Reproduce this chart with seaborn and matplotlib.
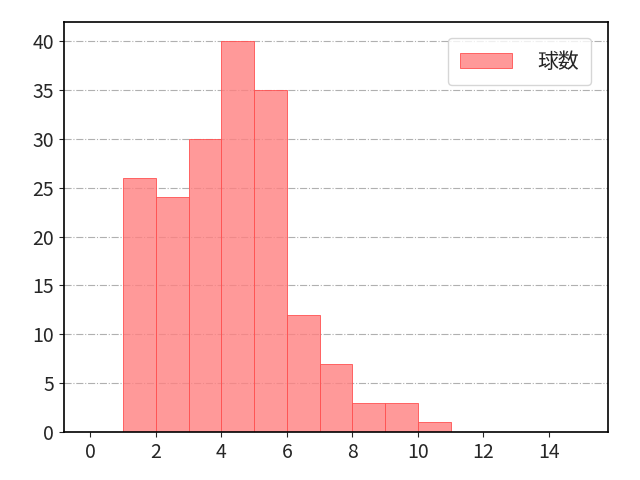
import numpy as np
import pandas as pd
import matplotlib
matplotlib.use("Agg")
import matplotlib.pyplot as plt
import seaborn as sns

# 球数の分布 (1球刻み)
bin_left = [0, 1, 2, 3, 4, 5, 6, 7, 8, 9, 10, 11, 12, 13, 14]
counts = [0, 26, 24, 30, 40, 35, 12, 7, 3, 3, 1, 0, 0, 0, 0]
label = "球数"

sns.set_style("ticks")
plt.rcParams['font.family'] = ['Noto Sans CJK JP', 'DejaVu Sans']
plt.rcParams['font.size'] = 15

df = pd.DataFrame({"x": np.array(bin_left) + 0.5, "w": counts})

fig, ax = plt.subplots(figsize=(6.4, 4.8), dpi=100)
sns.histplot(data=df, x="x", weights="w", binwidth=1, binrange=(0, 15), ax=ax,
             color="#ff8080", alpha=0.8, edgecolor="#ff5050", linewidth=0.6,
             label=label)
ax.set_xlim(-0.8, 15.8)
ax.set_ylim(0, 42)
ax.set_xticks(range(0, 15, 2))
ax.set_yticks(range(0, 41, 5))
ax.set_xlabel("")
ax.set_ylabel("")
ax.grid(axis="y", linestyle="-.", color="#b0b0b0", linewidth=0.8)
ax.set_axisbelow(True)
for s in ax.spines.values():
    s.set_linewidth(1.2)
    s.set_color("black")
ax.tick_params(labelsize=14)
ax.legend(loc="upper right", fontsize=15, handlelength=2.5, handletextpad=1.2,
          borderpad=0.6, borderaxespad=0.8)

fig.subplots_adjust(left=0.1, right=0.95, top=0.955, bottom=0.1)
fig.savefig("out.png", dpi=100)
